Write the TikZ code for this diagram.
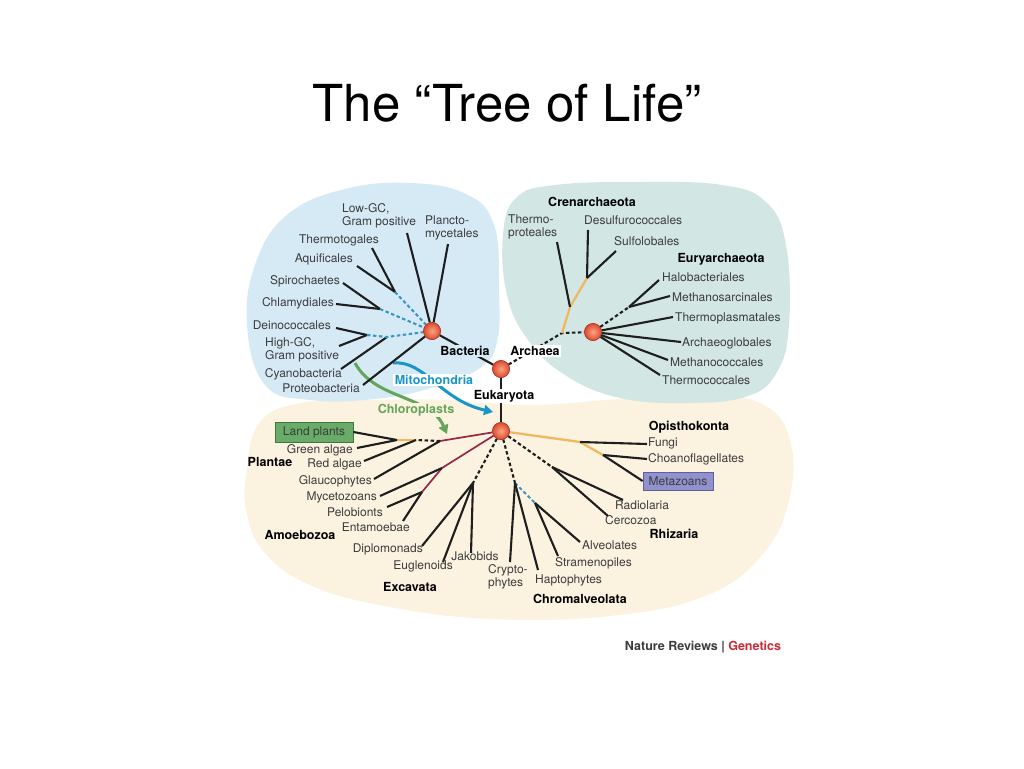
\documentclass[tikz,border=0pt]{standalone}
\usepackage{fontspec}
\setmainfont{TeX Gyre Heros}
\usetikzlibrary{arrows.meta}
\definecolor{ink}{RGB}{30,30,30}
\definecolor{txt}{RGB}{60,60,60}
\definecolor{bactbg}{RGB}{214,234,246}
\definecolor{archbg}{RGB}{210,230,228}
\definecolor{eukbg}{RGB}{251,242,224}
\definecolor{hubin}{RGB}{250,165,125}
\definecolor{hubout}{RGB}{220,75,50}
\definecolor{hubedge}{RGB}{175,55,40}
\definecolor{amber}{RGB}{240,185,95}
\definecolor{wine}{RGB}{150,40,70}
\definecolor{mito}{RGB}{25,150,200}
\definecolor{chloro}{RGB}{100,165,90}
\definecolor{dashblue}{RGB}{60,150,195}
\definecolor{plantbox}{RGB}{105,172,105}
\definecolor{plantedge}{RGB}{60,120,60}
\definecolor{metabox}{RGB}{145,145,205}
\definecolor{metaedge}{RGB}{95,95,155}
\definecolor{nrred}{RGB}{205,40,55}

\begin{document}
\begin{tikzpicture}[x=1pt, y=-1pt,
  font=\fontsize{12}{13}\selectfont,
  lbl/.style={text=txt, inner sep=1pt},
  grp/.style={font=\fontsize{12.5}{13}\selectfont\bfseries, text=black, inner sep=1pt},
  halo/.style={inner sep=1.5pt},
  tag/.style={draw, line width=0.8pt, text=txt, inner sep=2pt},
  hub/.style={circle, minimum size=17pt, inner sep=0pt, draw=hubedge, line width=0.6pt,
              inner color=hubin, outer color=hubout},
  br/.style={draw=ink, line width=2.1pt},
  dsh/.style={draw=ink, line width=2.1pt, dash pattern=on 3.5pt off 2.5pt},
  bdsh/.style={draw=dashblue, line width=2.1pt, dash pattern=on 3.5pt off 2.5pt},
  amb/.style={draw=amber, line width=2.3pt},
  wn/.style={draw=wine, line width=1.7pt},
  flow/.style={line width=3pt, -{Triangle[length=9pt,width=10pt]}},
]
  \useasboundingbox (0,0) rectangle (1024,768);

  % Domain backgrounds
  \fill[eukbg] plot[smooth cycle, tension=0.7] coordinates {
    (247,470) (258,425) (295,404) (370,400) (450,400) (530,405) (620,399) (700,394)
    (762,404) (790,440) (789,500) (762,555) (705,596) (610,616) (490,619) (385,606)
    (310,585) (264,552) (246,510)};
  \fill[bactbg] plot[smooth cycle, tension=0.7] coordinates {
    (247,325) (256,262) (288,214) (345,189) (410,183) (466,194) (494,225) (499,290)
    (497,342) (480,368) (435,387) (375,399) (310,400) (265,385)};
  \fill[archbg] plot[smooth cycle, tension=0.7] coordinates {
    (503,235) (516,198) (555,185) (640,182) (722,185) (766,202) (786,245) (789,325)
    (777,372) (748,396) (690,403) (620,398) (565,375) (528,340) (507,295)};

  % Title
  \node (title) at (507,103) {\fontsize{51}{60}\selectfont The “Tree of Life”};

  % Hubs
  \node[hub] (bac)  at (432,331) {};
  \node[hub] (arc)  at (501,369) {};
  \node[hub] (eury) at (593,332) {};
  \node[hub] (euk)  at (501,431) {};

  % Junctions
  \coordinate (jb1) at (395,292);
  \coordinate (jb2) at (380,309);
  \coordinate (jb3) at (367,335);
  \coordinate (jb4) at (387,337);
  \coordinate (ja1) at (562,333);
  \coordinate (ja2) at (570,307);
  \coordinate (ja3) at (587,278);
  \coordinate (ja4) at (629,307);
  \coordinate (jo1) at (580,442);
  \coordinate (jo2) at (603,455);
  \coordinate (jr)  at (552,467);
  \coordinate (jc1) at (515,483);
  \coordinate (jc2) at (535,503);
  \coordinate (jx)  at (473,483);
  \coordinate (jm1) at (442,468);
  \coordinate (jm2) at (422,492);
  \coordinate (jp3) at (440,441);
  \coordinate (jp2) at (416,440);
  \coordinate (jp1) at (397,440);

  % Leaf ends
  \coordinate (lowgc-e) at (407,233);
  \coordinate (plancto-e) at (448,244);
  \coordinate (thermotogales-e) at (372,248);
  \coordinate (aquificales-e) at (357,266);
  \coordinate (spirochaetes-e) at (343,283);
  \coordinate (chlamydiales-e) at (336,304);
  \coordinate (deinococcales-e) at (336,328);
  \coordinate (highgc-e) at (339,346);
  \coordinate (cyanobacteria-e) at (341,369);
  \coordinate (proteobacteria-e) at (363,385);
  \coordinate (thermoproteales-e) at (557,242);
  \coordinate (desulfurococcales-e) at (588,230);
  \coordinate (sulfolobales-e) at (616,251);
  \coordinate (halobacteriales-e) at (659,280);
  \coordinate (methanosarcinales-e) at (670,296);
  \coordinate (thermoplasmatales-e) at (673,317);
  \coordinate (archaeoglobales-e) at (681,342);
  \coordinate (methanococcales-e) at (668,360);
  \coordinate (thermococcales-e) at (660,375);
  \coordinate (fungi-e) at (647,444);
  \coordinate (choano-e) at (647,459);
  \coordinate (radiolaria-e) at (623,500);
  \coordinate (cercozoa-e) at (608,516);
  \coordinate (alveolates-e) at (580,542);
  \coordinate (stramenopiles-e) at (558,556);
  \coordinate (haptophytes-e) at (538,570);
  \coordinate (crypto-e) at (510,562);
  \coordinate (jakobids-e) at (471,553);
  \coordinate (euglenoids-e) at (443,562);
  \coordinate (diplomonads-e) at (422,546);
  \coordinate (entamoebae-e) at (403,521);
  \coordinate (pelobionts-e) at (387,507);
  \coordinate (mycetozoans-e) at (380,496);
  \coordinate (glaucophytes-e) at (374,479);
  \coordinate (redalgae-e) at (364,461);
  \coordinate (greenalgae-e) at (357,448);

  % Endosymbiosis arrows
  \coordinate (mito-s) at (393,363);
  \coordinate (mito-t) at (493,412);
  \coordinate (chloro-s) at (355,363);
  \coordinate (chloro-t) at (447,434);
  \draw[flow, chloro] (chloro-s) .. controls (375,400) and (430,395) .. (chloro-t);
  \draw[flow, mito] (mito-s) .. controls (425,360) and (440,400) .. (mito-t);

  % Bacteria
  \draw[br] (lowgc-e) -- (bac);
  \draw[br] (plancto-e) -- (bac);
  \draw[br] (thermotogales-e) -- (jb1);
  \draw[br] (aquificales-e) -- (jb1);
  \draw[br] (spirochaetes-e) -- (jb2);
  \draw[br] (chlamydiales-e) -- (jb2);
  \draw[br] (deinococcales-e) -- (jb3);
  \draw[br] (highgc-e) -- (jb3);
  \draw[br] (cyanobacteria-e) -- (jb4);
  \draw[br] (proteobacteria-e) -- (bac);
  \draw[bdsh] (jb1) -- (bac);
  \draw[bdsh] (jb2) -- (bac);
  \draw[bdsh] (jb3) -- (jb4) -- (bac);
  \draw[br] (bac) -- (arc);

  % Archaea
  \draw[dsh] (arc) -- (ja1) -- (eury);
  \draw[amb] (ja1) -- (ja2) -- (ja3);
  \draw[br] (thermoproteales-e) -- (ja2);
  \draw[br] (desulfurococcales-e) -- (ja3);
  \draw[br] (sulfolobales-e) -- (ja3);
  \draw[dsh] (eury) -- (ja4);
  \draw[br] (halobacteriales-e) -- (ja4);
  \draw[br] (methanosarcinales-e) -- (ja4);
  \draw[br] (thermoplasmatales-e) -- (eury);
  \draw[br] (archaeoglobales-e) -- (eury);
  \draw[br] (methanococcales-e) -- (eury);
  \draw[br] (thermococcales-e) -- (eury);
  \draw[br] (arc) -- (euk);

  % Eukaryota
  \node[tag, fill=plantbox, draw=plantedge, minimum width=78pt, minimum height=20pt] (land) at (314,432) {Land plants};
  \node[tag, fill=metabox, draw=metaedge, minimum width=70pt, minimum height=18pt] (meta) at (678,481) {Metazoans};
  \draw[amb] (euk) -- (jo1) -- (jo2);
  \draw[br] (fungi-e) -- (jo1);
  \draw[br] (choano-e) -- (jo2);
  \draw[br] (meta.west) -- (jo2);
  \draw[dsh] (euk) -- (jr);
  \draw[br] (radiolaria-e) -- (jr);
  \draw[br] (cercozoa-e) -- (jr);
  \draw[dsh] (euk) -- (jc1);
  \draw[bdsh] (jc1) -- (jc2);
  \draw[br] (alveolates-e) -- (jc2);
  \draw[br] (stramenopiles-e) -- (jc2);
  \draw[br] (haptophytes-e) -- (jc1);
  \draw[br] (crypto-e) -- (jc1);
  \draw[dsh] (euk) -- (jx);
  \draw[br] (jakobids-e) -- (jx);
  \draw[br] (euglenoids-e) -- (jx);
  \draw[br] (diplomonads-e) -- (jx);
  \draw[wn] (euk) -- (jm1) -- (jm2);
  \draw[br] (mycetozoans-e) -- (jm1);
  \draw[br] (pelobionts-e) -- (jm2);
  \draw[br] (entamoebae-e) -- (jm2);
  \draw[wn] (euk) -- (jp3);
  \draw[dsh] (jp3) -- (jp2);
  \draw[amb] (jp2) -- (jp1);
  \draw[br] (glaucophytes-e) -- (jp3);
  \draw[br] (redalgae-e) -- (jp2);
  \draw[br] (greenalgae-e) -- (jp1);
  \draw[br] (land.east) -- (jp1);

  % Hubs on top of the branches
  \node[hub] at (bac) {};
  \node[hub] at (arc) {};
  \node[hub] at (eury) {};
  \node[hub] at (euk) {};

  % Bacteria labels
  \node[lbl, anchor=west, align=left] (lowgc) at (341,215.5) {Low-GC,\\Gram positive};
  \node[lbl, anchor=west, align=left] (plancto) at (424,228) {Plancto-\\mycetales};
  \node[lbl, anchor=east] (thermotogales) at (380,240) {Thermotogales};
  \node[lbl, anchor=east] (aquificales) at (354,259) {Aquificales};
  \node[lbl, anchor=east] (spirochaetes) at (341,281) {Spirochaetes};
  \node[lbl, anchor=east] (chlamydiales) at (335,303) {Chlamydiales};
  \node[lbl, anchor=east] (deinococcales) at (332,325) {Deinococcales};
  \node[lbl, anchor=west, align=left] (highgc) at (264,349.5) {High-GC,\\Gram positive};
  \node[lbl, anchor=east] (cyanobacteria) at (343,374) {Cyanobacteria};
  \node[lbl, anchor=east] (proteobacteria) at (361,388) {Proteobacteria};
  \node[grp, halo, fill=bactbg] (bacL) at (465,351) {Bacteria};
  \node[grp, halo, text=mito, fill=white] (mitoL) at (434,380) {Mitochondria};
  \node[grp, halo, text=chloro, fill=eukbg] (chloroL) at (416,410) {Chloroplasts};

  % Archaea labels
  \node[grp, halo, fill=white] (arcL) at (535,351) {Archaea};
  \node[grp] (crenL) at (592,202) {Crenarchaeota};
  \node[lbl, anchor=west, align=left] (thermoproteales) at (507,226.5) {Thermo-\\proteales};
  \node[lbl, anchor=west] (desulfurococcales) at (583,220) {Desulfurococcales};
  \node[lbl, anchor=west] (sulfolobales) at (613,241) {Sulfolobales};
  \node[grp] (euryL) at (721,259) {Euryarchaeota};
  \node[lbl, anchor=west] (halobacteriales) at (661,277) {Halobacteriales};
  \node[lbl, anchor=west] (methanosarcinales) at (671,297) {Methanosarcinales};
  \node[lbl, anchor=west] (thermoplasmatales) at (674,318) {Thermoplasmatales};
  \node[lbl, anchor=west] (archaeoglobales) at (681,343) {Archaeoglobales};
  \node[lbl, anchor=west] (methanococcales) at (669,362) {Methanococcales};
  \node[lbl, anchor=west] (thermococcales) at (661,380) {Thermococcales};

  % Eukaryota labels
  \node[grp, halo, fill=white] (eukL) at (504,396) {Eukaryota};
  \node[lbl, anchor=east] (greenalgae) at (354,450) {Green algae};
  \node[grp] (plantaeL) at (270,462) {Plantae};
  \node[lbl, anchor=east] (redalgae) at (363,464) {Red algae};
  \node[lbl, anchor=east] (glaucophytes) at (373,481) {Glaucophytes};
  \node[lbl, anchor=east] (mycetozoans) at (378,497) {Mycetozoans};
  \node[lbl, anchor=east] (pelobionts) at (384,512) {Pelobionts};
  \node[lbl, anchor=east] (entamoebae) at (411,527) {Entamoebae};
  \node[grp] (amoebL) at (300,535) {Amoebozoa};
  \node[lbl, anchor=east] (diplomonads) at (424,549) {Diplomonads};
  \node[lbl] (jakobids) at (475,556) {Jakobids};
  \node[lbl, anchor=east] (euglenoids) at (454,566) {Euglenoids};
  \node[grp] (excL) at (410,587) {Excavata};
  \node[lbl, anchor=west, align=left] (crypto) at (487,576.5) {Crypto-\\phytes};
  \node[lbl, anchor=west] (haptophytes) at (534,580) {Haptophytes};
  \node[lbl, anchor=west] (stramenopiles) at (554,563) {Stramenopiles};
  \node[lbl, anchor=west] (alveolates) at (581,545) {Alveolates};
  \node[grp] (chromL) at (580,599) {Chromalveolata};
  \node[lbl, anchor=west] (radiolaria) at (614,505) {Radiolaria};
  \node[lbl, anchor=west] (cercozoa) at (604,520) {Cercozoa};
  \node[grp] (rhizL) at (674,534) {Rhizaria};
  \node[grp] (opisL) at (689,427) {Opisthokonta};
  \node[lbl, anchor=west] (fungi) at (647,443) {Fungi};
  \node[lbl, anchor=west] (choano) at (647,459) {Choanoflagellates};

  % Source
  \node[font=\fontsize{12.5}{14}\selectfont\bfseries, text=txt] (source) at (703,647)
    {Nature Reviews | \textcolor{nrred}{Genetics}};
\end{tikzpicture}
\end{document}
